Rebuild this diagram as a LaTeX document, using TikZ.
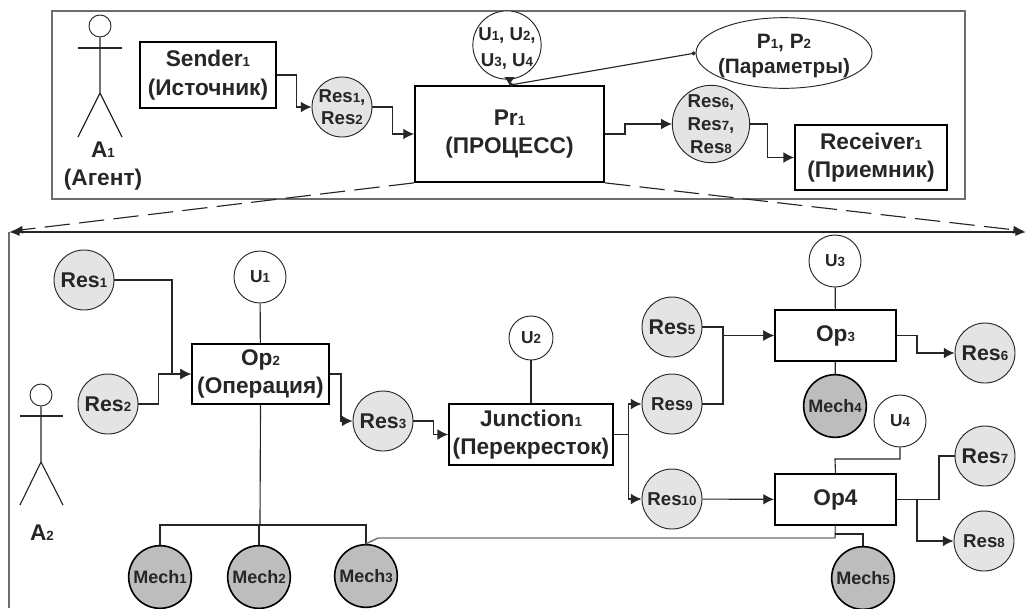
\documentclass[tikz,border=0pt]{standalone}
\usepackage{fontspec}
\setmainfont{Liberation Sans}
\usepackage{tikz}
\usetikzlibrary{arrows.meta}
\usetikzlibrary{shapes.geometric}

\definecolor{resgray}{HTML}{E4E4E4}
\definecolor{mechgray}{HTML}{BDBDBD}
\definecolor{inkgray}{HTML}{262626}
\definecolor{framegray}{HTML}{6E6E6E}

\newcommand{\idx}[1]{{\fontsize{10}{10}\selectfont #1}}
\newcommand{\bigtext}{\fontsize{17}{21.5}\selectfont\bfseries}
\newcommand{\restext}{\fontsize{16}{20}\selectfont\bfseries}
\newcommand{\midtext}{\fontsize{14}{16.5}\selectfont\bfseries}
\newcommand{\lift}{\rule{0pt}{15pt}}

\tikzset{
    wire/.style={draw=inkgray,line width=0.85pt},
    flow/.style={wire,-{Latex[length=8pt,width=8pt]}},
    boxnode/.style={draw=black,line width=1.3pt,fill=white,align=center,text=inkgray,font=\bigtext,inner sep=0pt},
    resnode/.style={circle,draw=inkgray,line width=0.7pt,fill=resgray,align=center,text=inkgray,inner sep=0pt,minimum size=45pt,font=\restext},
    ressmall/.style={resnode,font=\midtext},
    unode/.style={circle,draw=inkgray,line width=0.7pt,fill=white,align=center,text=inkgray,inner sep=0pt,minimum size=39pt,font=\fontsize{13}{18}\selectfont\bfseries},
    mechnode/.style={circle,draw=black,line width=1.2pt,fill=mechgray,text=inkgray,inner sep=0pt,minimum size=47pt,font=\fontsize{13.5}{16}\selectfont\bfseries},
    actorhead/.style={circle,draw=inkgray,line width=0.7pt,fill=white,inner sep=0pt,minimum size=16.5pt},
    plainlabel/.style={align=center,text=inkgray,font=\bigtext,inner sep=0pt},
}

\begin{document}
\begin{tikzpicture}[x=0.75pt,y=-0.75pt]
        \useasboundingbox (0,0) rectangle (1026,608);

        % Frames
        \draw[framegray,line width=1pt,fill=white] (52,11) rectangle (965,199);
        \draw[framegray,line width=1pt] (9,608) -- (9,232);
        \draw[flow,{Latex[length=8pt,width=6pt]}-{Latex[length=8pt,width=6pt]}] (9,232) -- (1026,232);

        % Top process
        \node[boxnode,minimum width=102pt,minimum height=49pt] (sender) at (208,75) {Sender\idx{1}\\(Источник)};
        \node[ressmall] (resab) at (342,107) {Res\idx{1},\\Res\idx{2}};
        \node[boxnode,minimum width=142pt,minimum height=72pt] (proc) at (509.5,134) {Pr\idx{1}\\(ПРОЦЕСС)};
        \node[unode,inner sep=-1.7pt,font=\fontsize{14}{19}\selectfont\bfseries] (uall) at (507,45) {\lift U\idx{1}, U\idx{2},\\U\idx{3}, U\idx{4}};
        \node[ellipse,draw=inkgray,line width=0.7pt,fill=white,align=center,text=inkgray,inner sep=-3pt,minimum width=132pt,minimum height=53pt,font=\fontsize{15.6}{19}\selectfont\bfseries] (param) at (784,53) {\lift P\idx{1}, P\idx{2}\\(Параметры)};
        \node[ressmall,minimum size=58pt,font=\fontsize{14}{17.5}\selectfont\bfseries] (rescde) at (711,124) {Res\idx{6},\\Res\idx{7},\\Res\idx{8}};
        \node[boxnode,minimum width=114pt,minimum height=49pt] (receiver) at (871,157.5) {Receiver\idx{1}\\(Приемник)};

        % Top connectors
        \draw[flow] (sender.east) -- ++(20,0) |- (resab.west);
        \draw[flow] (resab.east) -- ++(20,0) |- (proc.west);
        \draw[flow] (proc.east) -- ++(20,0) |- (rescde.west);
        \draw[flow] (rescde.east) -- ++(17,0) |- (receiver.west);
        \draw[wire,{Circle[length=3pt]}-{Circle[length=3pt]}] (param.west) -- (proc.north);
        \draw[wire,-{Latex[length=6pt,width=8pt]}] (proc.north |- uall.south) -- (proc.north);

        % Dashed zoom lines
        \draw[wire,dash pattern=on 19pt off 7pt,-{Latex[length=8pt,width=6pt]}] (proc.south west) -- (12,231);
        \draw[wire,dash pattern=on 19pt off 7pt,-{Latex[length=8pt,width=6pt]}] (proc.south east) -- (1024,231);

        % Agent one
        \node[actorhead] (heada) at (100,26) {};
        \draw[wire] (heada.south) -- (100,93) coordinate (hipa) -- (78,137);
        \draw[wire] (hipa) -- (122,137);
        \draw[wire] (78,48) -- (122,48);
        \node[plainlabel] (agenta) at (103,166) {A\idx{1}\\(Агент)};

        % Agent two
        \node[actorhead] (headb) at (41,395) {};
        \draw[wire] (headb.south) -- (41,462) coordinate (hipb) -- (20,505);
        \draw[wire] (hipb) -- (63,505);
        \draw[wire] (20,416) -- (63,416);
        \node[plainlabel] (agentb) at (42,533) {A\idx{2}};

        % Bottom left
        \node[resnode] (resone) at (84,280) {Res\idx{1}};
        \node[resnode] (restwo) at (108,404) {Res\idx{2}};
        \node[unode] (uone) at (260,277) {U\idx{1}};
        \node[boxnode,minimum width=103pt,minimum height=45pt] (optwo) at (260.5,374) {Op\idx{2}\\(Операция)};
        \node[resnode] (resthree) at (383,421) {Res\idx{3}};
        \node[mechnode] (mechone) at (160,577) {Mech\idx{1}};
        \node[mechnode] (mechtwo) at (259,577) {Mech\idx{2}};
        \node[mechnode] (mechthree) at (366,576) {Mech\idx{3}};
        \coordinate (busmid) at (260,525);

        % Bottom middle
        \node[unode,minimum size=33pt] (utwo) at (531,338) {U\idx{2}};
        \node[boxnode,minimum width=123pt,minimum height=46pt] (junction) at (531,434.5) {Junction\idx{1}\\(Перекресток)};
        \node[resnode] (resfive) at (672,327) {Res\idx{5}};
        \node[ressmall] (resnine) at (672,404) {Res\idx{9}};
        \node[ressmall] (resten) at (672,499) {Res\idx{10}};

        % Bottom right
        \node[unode] (uthree) at (835,261) {U\idx{3}};
        \node[boxnode,minimum width=91pt,minimum height=38pt] (opthree) at (835.5,335.5) {Op\idx{3}};
        \node[mechnode] (mechfour) at (835,406) {Mech\idx{4}};
        \node[resnode] (ressix) at (985,353) {Res\idx{6}};
        \node[unode] (ufour) at (900,421) {U\idx{4}};
        \node[boxnode,minimum width=91pt,minimum height=38pt] (opfour) at (835.5,499.5) {Op4};
        \node[resnode] (resseven) at (985,456) {Res\idx{7}};
        \node[ressmall] (reseight) at (984,541) {Res\idx{8}};
        \node[mechnode] (mechfive) at (863,578) {Mech\idx{5}};

        % Bottom connectors
        \draw[flow] (resone.east) -| (172,374) -- (optwo.west);
        \draw[flow] (restwo.east) -- ++(20,0) |- (optwo.west);
        \draw[wire] (uone) -- (optwo);
        \draw[wire] (optwo.south) -- (busmid);
        \draw[wire] (mechone.north) |- (busmid);
        \draw[wire] (mechtwo.north) -- (mechtwo.north |- busmid);
        \draw[wire] (mechthree.north) |- (busmid);
        \draw[flow] (optwo.east) -- ++(11,0) |- (resthree.west);
        \draw[flow] (resthree.east) -- ++(20,0) |- (junction.west);
        \draw[wire] (utwo) -- (junction);
        \draw[flow] (junction.east) -- ++(15,0) |- (resnine.west);
        \draw[flow] (junction.east) -- ++(15,0) |- (resten.west);
        \draw[flow] (resfive.east) -| (723,335.5) -- (opthree.west);
        \draw[flow] (resnine.east) -| (723,335.5) -- (opthree.west);
        \draw[flow] (resten) -- (opfour);
        \draw[wire] (uthree) -- (opthree);
        \draw[wire] (mechfour) -- (opthree);
        \draw[flow] (opthree.east) -- ++(20,0) |- (ressix.west);
        \draw[wire] (ufour.south) |- (835,459) -- (opfour.north);
        \draw[wire] (opfour.east) -- ++(42,0) |- (resseven.west);
        \draw[flow] (opfour.east) -- ++(20,0) |- (reseight.west);
        \draw[framegray,line width=1.1pt] (mechthree.north) -- (378,538) -- (835,538) -- (opfour.south);
        \draw[wire] (mechfive.north) |- (835,534);
        \end{tikzpicture}
\end{document}
